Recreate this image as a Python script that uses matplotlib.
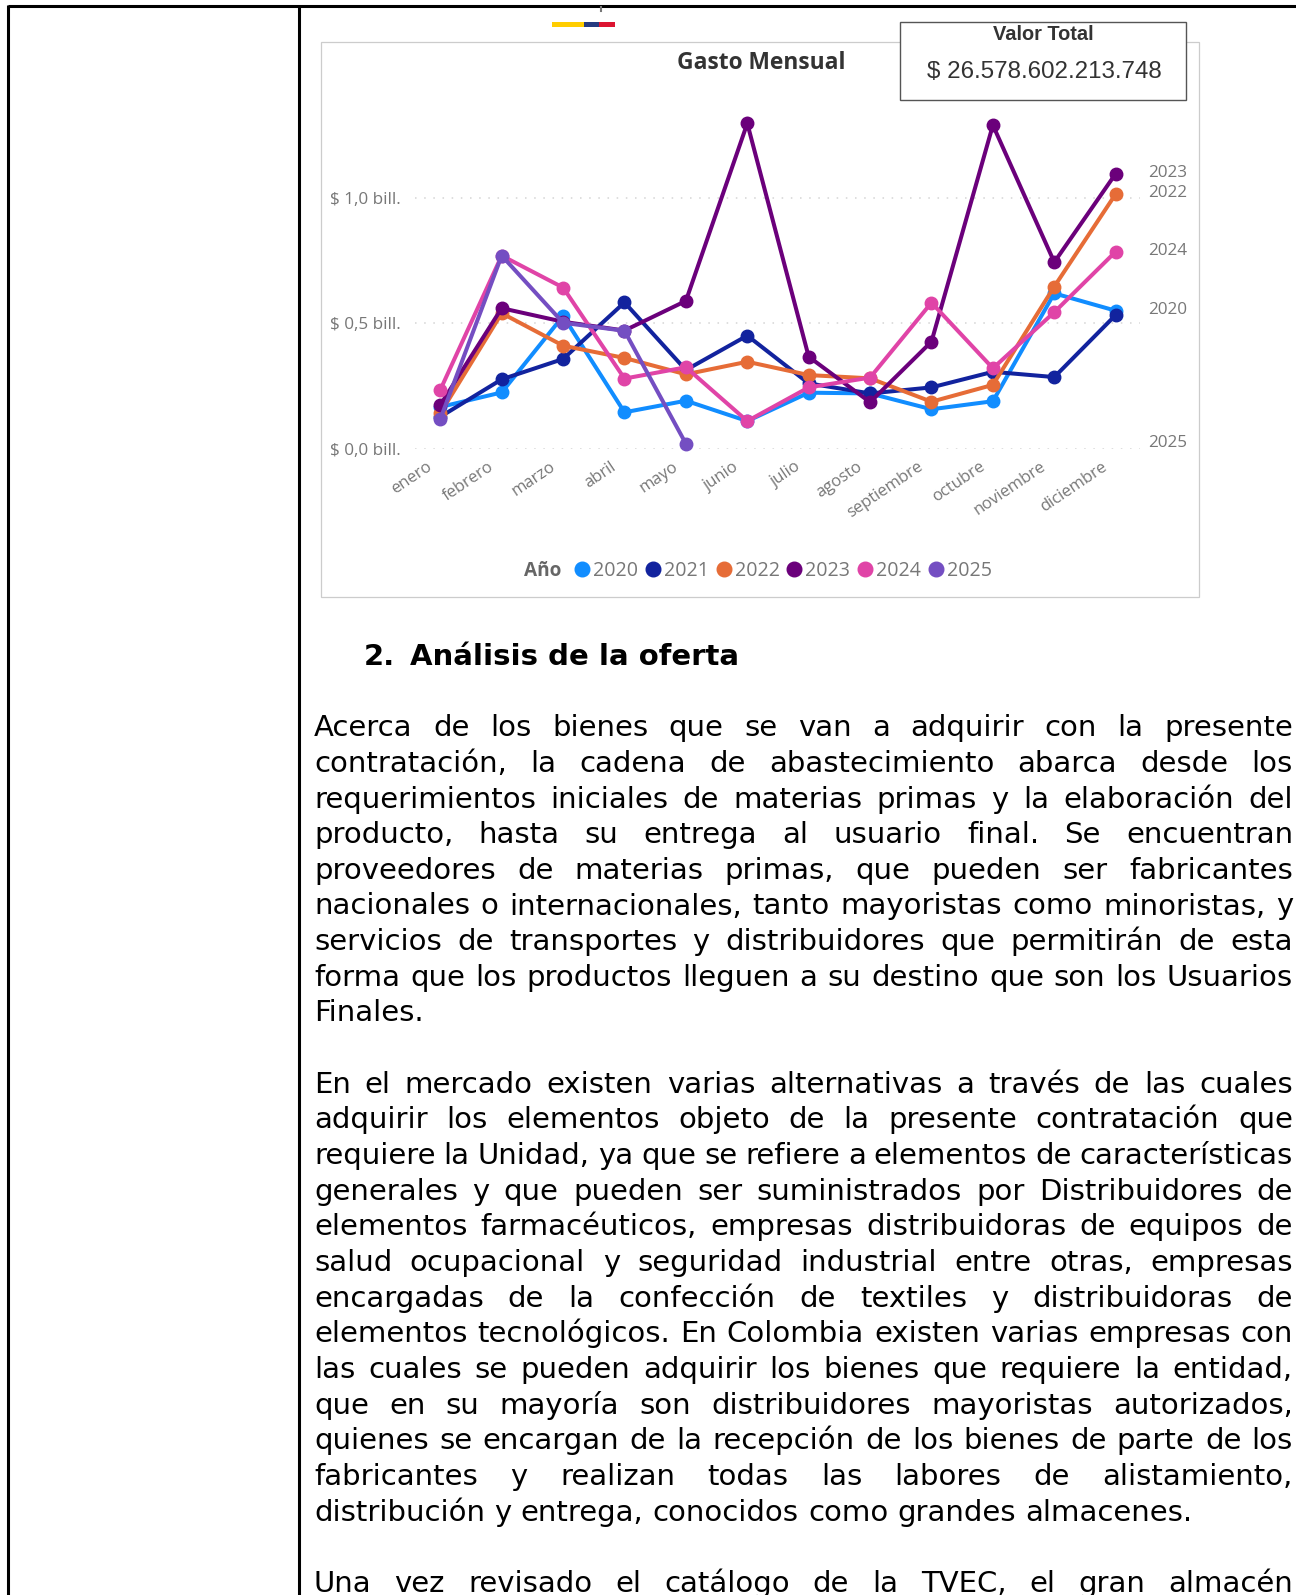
import numpy as np
import matplotlib
matplotlib.use("Agg")
import matplotlib.pyplot as plt
import matplotlib.patches as patches
from matplotlib.lines import Line2D
from matplotlib.transforms import ScaledTranslation

months = ["enero", "febrero", "marzo", "abril", "mayo", "junio", "julio", "agosto",
          "septiembre", "octubre", "noviembre", "diciembre"]
years = ["2020", "2021", "2022", "2023", "2024", "2025"]
colors = ["#118DFF", "#12239E", "#E66C37", "#6B007B", "#E044A7", "#744EC2"]

# billones de pesos
v2020 = [0.167, 0.225, 0.529, 0.146, 0.192, 0.111, 0.224, 0.221, 0.158, 0.190, 0.619, 0.550]
v2021 = [0.128, 0.277, 0.358, 0.583, 0.314, 0.451, 0.261, 0.221, 0.245, 0.307, 0.286, 0.533]
v2022 = [0.142, 0.540, 0.411, 0.362, 0.297, 0.347, 0.294, 0.281, 0.188, 0.255, 0.646, 1.014]
v2023 = [0.175, 0.560, 0.506, 0.471, 0.589, 1.295, 0.367, 0.186, 0.427, 1.288, 0.743, 1.095]
v2024 = [0.235, 0.769, 0.642, 0.280, 0.325, 0.111, 0.245, 0.284, 0.582, 0.321, 0.544, 0.785]
v2025 = [0.119, 0.769, 0.502, 0.470, 0.021]
series = [v2020, v2021, v2022, v2023, v2024, v2025]

yticks = [0.0, 0.5, 1.0]
ytick_labels = ["$ 0,0 bill.", "$ 0,5 bill.", "$ 1,0 bill."]
end_labels = ["2020", "2022", "2023", "2024", "2025"]

heading = "2.  Análisis de la oferta"
para1 = [
    "Acerca de los bienes que se van a adquirir con la presente",
    "contratación, la cadena de abastecimiento abarca desde los",
    "requerimientos iniciales de materias primas y la elaboración del",
    "producto, hasta su entrega al usuario final. Se encuentran",
    "proveedores de materias primas, que pueden ser fabricantes",
    "nacionales o internacionales, tanto mayoristas como minoristas, y",
    "servicios de transportes y distribuidores que permitirán de esta",
    "forma que los productos lleguen a su destino que son los Usuarios",
    "Finales.",
]
para2 = [
    "En el mercado existen varias alternativas a través de las cuales",
    "adquirir los elementos objeto de la presente contratación que",
    "requiere la Unidad, ya que se refiere a elementos de características",
    "generales y que pueden ser suministrados por Distribuidores de",
    "elementos farmacéuticos, empresas distribuidoras de equipos de",
    "salud ocupacional y seguridad industrial entre otras, empresas",
    "encargadas de la confección de textiles y distribuidoras de",
    "elementos tecnológicos. En Colombia existen varias empresas con",
    "las cuales se pueden adquirir los bienes que requiere la entidad,",
    "que en su mayoría son distribuidores mayoristas autorizados,",
    "quienes se encargan de la recepción de los bienes de parte de los",
    "fabricantes y realizan todas las labores de alistamiento,",
    "distribución y entrega, conocidos como grandes almacenes.",
]
para3 = ["Una vez revisado el catálogo de la TVEC, el gran almacén"]

W, H = 1296, 1595
fig = plt.figure(figsize=(W / 100, H / 100), dpi=100)

# page layer, in pixels
page = fig.add_axes([0, 0, 1, 1])
page.set_xlim(0, W)
page.set_ylim(H, 0)
page.axis("off")

page.plot([8, W], [6, 6], color="black", lw=2.2, solid_capstyle="butt")
page.plot([8, 8], [5, H], color="black", lw=2.2, solid_capstyle="butt")
page.plot([299, 299], [5, H], color="black", lw=2.2, solid_capstyle="butt")

# bits of the header above the chart
page.plot([601, 601], [7, 11], color="#777777", lw=1.5)
page.add_patch(patches.Rectangle((552, 22), 31.5, 5, color="#FFCD00", lw=0))
page.add_patch(patches.Rectangle((583.5, 22), 15.5, 5, color="#263B80", lw=0))
page.add_patch(patches.Rectangle((599, 22), 15.5, 5, color="#DC1431", lw=0))

page.add_patch(patches.Rectangle((321, 42), 877.5, 554.5, fill=False, edgecolor="#CCCCCC", lw=0.9))
page.add_patch(patches.Rectangle((899.5, 22), 286.5, 77.5, facecolor="white", edgecolor="#555555",
                                 lw=1.0, zorder=3))
page.text(1043, 35, "Valor Total", ha="center", va="center", family="Liberation Sans",
          fontweight="bold", fontsize=14.4, color="#333333", zorder=4)
page.text(1044, 72, "$ 26.578.602.213.748", ha="center", va="center", family="Liberation Sans",
          fontsize=17.4, color="#333333", zorder=4)
page.text(761, 63, "Gasto Mensual", ha="center", va="center", family="Open Sans",
          fontweight="bold", fontsize=16.4, color="#333333")
page.text(524, 571, "Año", ha="left", va="center", family="Open Sans", fontweight="bold",
          fontsize=13.7, color="#666666")

# chart layer
ax_left, ax_right, ax_top, ax_bottom = 415, 1140, 100, 449
ax = fig.add_axes([ax_left / W, 1 - ax_bottom / H, (ax_right - ax_left) / W, (ax_bottom - ax_top) / H])
ax.patch.set_alpha(0)
for s in ax.spines.values():
    s.set_visible(False)

for year, vals, col in zip(years, series, colors):
    ax.plot(range(len(vals)), vals, color=col, lw=2.9, marker="o", ms=9, clip_on=False,
            solid_joinstyle="miter", label=year)
    if year in end_labels:
        ax.annotate(year, xy=(1.0, vals[-1]), xycoords=("axes fraction", "data"),
                    xytext=(5.5, 0.8), textcoords="offset points",
                    ha="left", va="center", family="Open Sans", fontsize=12.3, color="#777777")

ax.set_xlim(-0.412, 11.396)
ax.set_ylim(0, 1.388)
ax.set_yticks(yticks)
ax.set_yticklabels(ytick_labels, family="Open Sans", fontsize=12.3, color="#777777")
ax.set_xticks(range(len(months)))
ax.set_xticklabels(months, rotation=34, ha="right", va="top", rotation_mode="anchor",
                   family="Open Sans", fontsize=12, color="#777777")
ax.tick_params(axis="both", length=0)
ax.tick_params(axis="y", pad=10.2)
ax.tick_params(axis="x", pad=7)
ax.grid(axis="y", color="#D4D4D4", lw=1.1, linestyle=(0, (1, 5)))
ax.set_axisbelow(True)

# month labels sit a bit left of their points in the original
shift = ScaledTranslation(-14 / 100, 0, fig.dpi_scale_trans)
for lab in ax.get_xticklabels():
    lab.set_transform(lab.get_transform() + shift)

handles = [Line2D([], [], color=c, marker="o", ls="none", ms=10.5) for c in colors]
fig.legend(handles, years, loc="center left", bbox_to_anchor=(574 / W, 1 - 571 / H), ncol=6,
           frameon=False, borderpad=0, borderaxespad=0, handlelength=0.8, handletextpad=0.16,
           columnspacing=0.36, labelcolor="#777777", prop={"family": "Open Sans", "size": 14.1})

# body text, justified word by word
body_left, body_right = 314, 1293
first_base, line_step = 736.2, 35.66
body_size = 21

renderer = fig.canvas.get_renderer()


def word_width(word):
    t = page.text(0, 0, word, fontsize=body_size, family="DejaVu Sans")
    w = t.get_window_extent(renderer).width
    t.remove()
    return w


space = word_width("a a") - 2 * word_width("a")


def draw_line(line, base, justify):
    words = line.split()
    widths = [word_width(w) for w in words]
    gap = space
    if justify and len(words) > 1:
        gap = (body_right - body_left - sum(widths)) / (len(words) - 1)
    x = body_left
    for word, w in zip(words, widths):
        page.text(x, base, word, fontsize=body_size, family="DejaVu Sans", color="black",
                  ha="left", va="baseline")
        x += w + gap


page.text(363.5, 665, "2.", fontsize=20.95, family="DejaVu Sans", fontweight="bold", va="baseline")
page.text(410, 665, heading.split("  ")[1], fontsize=20.95, family="DejaVu Sans", fontweight="bold",
          va="baseline")

n = 0
for para, last_justified in [(para1, False), (para2, False), (para3, True)]:
    for i, line in enumerate(para):
        draw_line(line, first_base + n * line_step, last_justified or i < len(para) - 1)
        n += 1
    n += 1

fig.savefig("out.png", dpi=100)
